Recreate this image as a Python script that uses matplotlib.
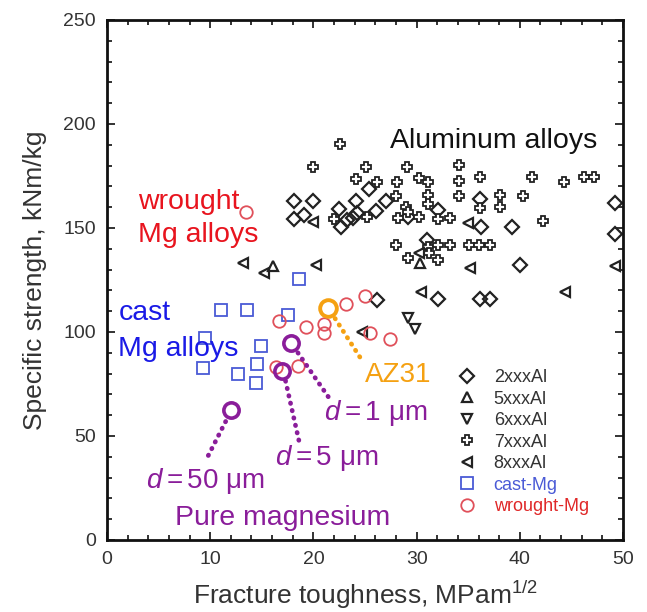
import matplotlib
matplotlib.use("Agg")
import matplotlib.pyplot as plt
from matplotlib.ticker import MultipleLocator

plt.rcParams['font.family'] = ['Liberation Sans', 'DejaVu Sans']
plt.rcParams['mathtext.fontset'] = 'custom'
plt.rcParams['mathtext.rm'] = 'Liberation Sans'
plt.rcParams['mathtext.it'] = 'Liberation Sans:italic'

# ---------------- data ----------------
al2_x = [25.4, 18.1, 20.0, 18.1, 19.1, 22.5, 22.7, 23.3, 24.1, 24.2, 23.8, 26.1, 27.0, 26.2,
         32.1, 36.2, 31.0, 36.1, 29.2, 32.1, 36.1, 37.1, 39.2, 49.2, 49.2, 40.0]
al2_y = [168.6, 162.8, 162.8, 154.1, 156.1, 159.0, 150.3, 153.7, 162.8, 157.0, 154.6, 158.0, 162.8, 115.6,
         158.5, 150.3, 144.0, 163.8, 155.1, 116.1, 116.1, 116.1, 150.3, 161.8, 146.9, 132.0]

al5_x = [16.1, 30.3]
al5_y = [131.5, 133.4]

al6_x = [29.2, 29.8]
al6_y = [106.5, 101.6]

al7_x = [22.6, 20.0, 25.1, 24.1, 26.2, 28.1, 22.0, 25.2, 28.0, 28.2, 28.0, 29.1, 34.1, 30.2,
         31.1, 34.1, 36.1, 31.1, 31.1, 34.1, 36.1, 38.1, 38.1, 29.0, 30.2, 29.2, 32.1, 33.2,
         31.1, 32.1, 33.2, 35.1, 36.0, 37.1, 29.2, 32.1, 31.2, 41.2, 44.3, 46.2, 47.2, 40.3, 42.2]
al7_y = [190.3, 179.2, 179.2, 173.4, 172.0, 172.0, 154.1, 155.1, 165.2, 154.6, 141.6, 179.2, 180.2, 173.9,
         172.0, 172.4, 174.4, 165.7, 161.4, 165.2, 159.4, 165.7, 159.9, 159.9, 155.1, 157.5, 154.1, 154.6,
         140.7, 141.6, 141.6, 141.6, 141.6, 141.6, 135.4, 134.4, 138.2, 174.4, 172.0, 174.4, 174.4, 165.2, 153.2]

al8_x = [20.0, 20.3, 13.2, 15.2, 35.0, 30.2, 35.2, 30.4, 49.2, 44.4, 24.7]
al8_y = [152.7, 132.0, 133.4, 128.6, 152.2, 137.8, 131.0, 119.0, 131.5, 119.0, 100.2]

cast_x = [18.6, 11.0, 13.6, 17.5, 9.5, 14.9, 14.5, 9.3, 12.7, 14.4]
cast_y = [125.7, 110.8, 110.8, 108.4, 97.3, 93.4, 84.8, 82.9, 80.0, 75.6]

wrought_x = [13.5, 16.7, 19.3, 21.0, 21.0, 23.2, 25.0, 25.5, 27.4, 18.5, 16.4]
wrought_y = [157.5, 105.5, 102.6, 104.0, 99.7, 113.7, 117.1, 99.7, 96.8, 83.8, 83.3]

pure_x = [12.0, 17.0, 17.8]
pure_y = [62.5, 81.4, 94.9]
pure_labels = ['$d = 50$ μm', '$d = 5$ μm', '$d = 1$ μm']

az31_x = [21.4]
az31_y = [111.3]

# leader lines: (x0, y0, x1, y1)
pure_leaders = [(11.5, 57.0, 9.7, 39.5), (17.3, 76.5, 18.6, 47.7), (18.5, 90.0, 21.7, 67.0)]
az31_leader = (22.1, 106.5, 24.6, 87.2)

legend_labels = ['2xxxAl', '5xxxAl', '6xxxAl', '7xxxAl', '8xxxAl', 'cast-Mg', 'wrought-Mg']

# ---------------- styles ----------------
BLUE_M = '#4a5ad6'
RED_M = '#e0505a'
PURPLE = '#8a1d9a'
ORANGE = '#f5a112'

fig = plt.figure(figsize=(6.47, 6.12), dpi=100)
ax = fig.add_axes([107/647, (612-540)/612, (623-107)/647, (540-20)/612])

mk = dict(linestyle='none', markerfacecolor='none', markeredgewidth=1.6)
h2, = ax.plot(al2_x, al2_y, marker='D', ms=6.8, color='#222222', **mk)
h5, = ax.plot(al5_x, al5_y, marker='^', ms=7.5, color='#222222', **mk)
h6, = ax.plot(al6_x, al6_y, marker='v', ms=7.5, color='#222222', **mk)
h7, = ax.plot(al7_x, al7_y, marker='P', ms=6.8, color='#222222', linestyle='none',
              markerfacecolor='white', markeredgewidth=1.3)
h8, = ax.plot(al8_x, al8_y, marker='<', ms=7.5, color='#222222', **mk)
hc, = ax.plot(cast_x, cast_y, marker='s', ms=9, color=BLUE_M, markerfacecolor='none',
              linestyle='none', markeredgewidth=1.3)
hw, = ax.plot(wrought_x, wrought_y, marker='o', ms=9, color=RED_M, markerfacecolor='none',
              linestyle='none', markeredgewidth=1.3)

dot = dict(linestyle=(0, (0.1, 1.5)), linewidth=3.4, dash_capstyle='round')
for (x0, y0, x1, y1) in pure_leaders:
    ax.plot([x0, x1], [y0, y1], color=PURPLE, **dot)
ax.plot([az31_leader[0], az31_leader[2]], [az31_leader[1], az31_leader[3]], color=ORANGE, **dot)

ax.plot(pure_x, pure_y, marker='o', ms=11, color=PURPLE, markerfacecolor='none',
        linestyle='none', markeredgewidth=2.6)
ax.plot(az31_x, az31_y, marker='o', ms=12, color=ORANGE, markerfacecolor='none',
        linestyle='none', markeredgewidth=2.8)

# annotations
ax.text(37.5, 192, 'Aluminum alloys', fontsize=20.5, color='#111111', ha='center', va='center')
ax.text(3.0, 162.3, 'wrought', fontsize=20.5, color='#e8141e', ha='left', va='center')
ax.text(3.0, 146.4, 'Mg alloys', fontsize=20.5, color='#e8141e', ha='left', va='center')
ax.text(1.1, 108.9, 'cast', fontsize=20.5, color='#1a1ae6', ha='left', va='center')
ax.text(1.1, 92.0, 'Mg alloys', fontsize=20.5, color='#1a1ae6', ha='left', va='center')
ax.text(28.2, 79.5, 'AZ31', fontsize=20, color=ORANGE, ha='center', va='center')
label_pos = [(9.5, 28.4), (21.3, 39.5), (26.0, 61.0)]
for (lx, ly), lab in zip(label_pos, pure_labels):
    ax.text(lx, ly, lab, fontsize=20, color=PURPLE, ha='center', va='center')
ax.text(17.0, 10.6, 'Pure magnesium', fontsize=20.5, color=PURPLE, ha='center', va='center')

# axes
ax.set_xlim(0, 50)
ax.set_ylim(0, 250)
ax.xaxis.set_major_locator(MultipleLocator(10))
ax.xaxis.set_minor_locator(MultipleLocator(2))
ax.yaxis.set_major_locator(MultipleLocator(50))
ax.yaxis.set_minor_locator(MultipleLocator(10))
ax.tick_params(which='both', direction='in', top=True, right=True, width=1.2,
               labelsize=14, labelcolor='#333333', color='#111111')
ax.tick_params(which='major', length=6, pad=8)
ax.tick_params(which='minor', length=3.5)
for s in ax.spines.values():
    s.set_linewidth(2.0)
    s.set_color('#111111')

ax.set_xlabel('Fracture toughness, MPam$^{1/2}$', fontsize=19, color='#333333', labelpad=8)
ax.set_ylabel('Specific strength, kNm/kg', fontsize=19, color='#333333', labelpad=12)

leg = ax.legend([h2, h5, h6, h7, h8, hc, hw], legend_labels, loc='upper left',
                bbox_to_anchor=(0.655, 0.353), frameon=False, fontsize=13,
                handlelength=1.0, handletextpad=1.0, labelspacing=0.25, borderpad=0.2)
leg_colors = ['#333333'] * 5 + [BLUE_M, '#e02828']
for t, c in zip(leg.get_texts(), leg_colors):
    t.set_color(c)

fig.savefig('out.png', dpi=100)
